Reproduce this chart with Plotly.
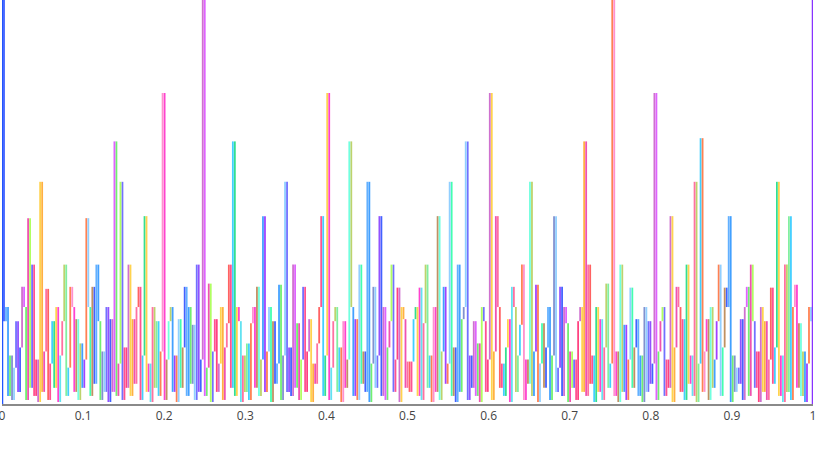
import numpy as np
import plotly.graph_objects as go

y_values = [
    110, 20.5, 24, 2, 12, 1, 9, 20.5, 3, 14,
    29, 24, 1, 46, 4, 34.5, 2, 11, 0.5, 55,
    3, 13, 28.5, 1, 10, 20.5, 4, 24, 0.5, 12,
    20.5, 34.5, 2, 9, 29, 24, 3, 21, 1, 15,
    4, 11, 46, 24, 2, 29, 5, 34.5, 20.5, 1,
    13, 3, 24, 0.5, 21, 3, 65, 2, 10, 55,
    1, 14, 4, 34.5, 2, 21, 5, 24, 29, 1,
    12, 46.5, 3, 10, 0.5, 24, 4, 20.5, 2, 13,
    77, 1, 11, 20.5, 24, 3, 12, 0.5, 21, 4,
    14, 29, 2, 24, 5, 19.6, 1, 34.5, 3, 11,
    110, 2, 9, 29.8, 0.5, 13, 21, 3, 10, 24,
    1, 14, 20, 34.5, 4, 65, 2, 24, 20.5, 0.5,
    12, 3, 15, 1, 20, 24, 4, 29, 2, 11,
    46.5, 3, 13, 24, 0.5, 20.5, 5, 10, 29.5, 1,
    12, 55, 3, 14, 2, 34.5, 4, 20, 1, 11,
    29, 3, 13, 21, 0.5, 10, 5, 15, 24, 46.5,
    2, 12, 77, 1, 9, 20.5, 24, 3, 14, 0.5,
    20.5, 4, 11, 65, 24, 2, 21, 1, 34.5, 5,
    13, 3, 55, 0.5, 10, 29, 4, 12, 46.5, 2,
    24, 1, 14, 20.5, 34.5, 3, 11, 28.8, 0.5, 24,
    21, 4, 10.5, 3, 10.5, 21, 24, 2, 28.8, 1,
    20, 34.5, 4, 12, 0.5, 24, 3, 46.5, 1, 13,
    29, 5, 10, 55, 2, 14, 0.5, 34.5, 3, 21,
    24, 65, 1, 12, 4, 20.5, 2, 15, 0.5, 24,
    20.5, 3, 11, 77, 1, 13, 46.5, 24, 4, 10,
    2, 14, 21, 0.5, 29, 24, 3, 12, 19.6, 34.5,
    1, 11, 5, 55, 2, 13, 29.5, 0.5, 10, 20,
    4, 14, 24, 1, 12, 46.5, 3, 9, 29, 2,
    24, 20, 0.5, 13, 4, 11, 1, 20.5, 24, 3,
    65, 2, 34.5, 5, 12, 0.5, 24, 3, 21, 1,
    14, 29.8, 4, 10, 110, 2, 13, 0.5, 34.5, 3,
    19.6, 1, 11, 28.8, 4, 14, 21, 2, 12, 0.5,
    24, 3, 20.5, 5, 10, 77, 1, 13, 20.5, 24,
    2, 11, 4, 46.5, 0.5, 14, 29, 24, 3, 21,
    1, 34.5, 5, 12, 2, 55, 0.5, 10, 65.8, 3,
    13, 21, 1, 24, 4, 11, 20.5, 34.5, 2, 14,
    28.8, 24, 46.5, 0.5, 12, 3, 9, 5, 21, 1,
    24, 29, 2, 34.5, 20.5, 4, 13, 0.5, 24, 3,
    20.5, 1, 11, 28.8, 5, 14, 55, 2, 12, 0.5,
    34.5, 3, 46.5, 1, 24, 29.5, 4, 20, 2, 13,
    0.5, 10, 24, 20.5, 110,
]
x_values = np.linspace(0.0, 1.0, len(y_values))

tick_values = [0, 0.1, 0.2, 0.3, 0.4, 0.5, 0.6, 0.7, 0.8, 0.9, 1]
tick_labels = ["0", "0.1", "0.2", "0.3", "0.4", "0.5", "0.6", "0.7", "0.8", "0.9", "1"]

# Segment colour cycle (style)
palette = [
    "#3355ff", "#ff3377", "#33ccff", "#9933ff", "#66ee66", "#ffaa33",
    "#ff33cc", "#33ffaa", "#6666ff", "#ff5555", "#b8d060", "#55aaff",
    "#cc66cc", "#22dd88", "#ff7744", "#7788cc", "#ee44aa", "#55e0f0",
    "#bb8855", "#8844ff", "#ff4488", "#77ee99", "#3399ff", "#dd55ff",
    "#ffd040", "#ff88cc", "#88ccff", "#aaff55", "#ff6699", "#66ffdd",
]

fig = go.Figure()
groups = {c: ([], []) for c in palette}

# each step of the sampled signal is drawn as a vertical stroke
for i in range(len(y_values) - 1):
    c = palette[(i * 11 + i // 3) % len(palette)]
    gx, gy = groups[c]
    xs = x_values[i + 1]
    gx.extend([xs, xs, None])
    gy.extend([y_values[i], y_values[i + 1], None])

for c, (gx, gy) in groups.items():
    fig.add_trace(go.Scatter(
        x=gx, y=gy, mode="lines",
        line=dict(color=c, width=1.8),
        opacity=0.92,
        hoverinfo="skip", showlegend=False,
    ))

# the endpoint spikes (x = 0 and x = 1) are drawn from the baseline, on top
for k, j in enumerate([0, len(y_values) - 1]):
    c = ["#2255ff", "#8833ff"][k]
    fig.add_trace(go.Scatter(
        x=[x_values[j], x_values[j]], y=[0, y_values[j]], mode="lines",
        line=dict(color=c, width=2.5), hoverinfo="skip", showlegend=False,
    ))

fig.update_layout(
    width=815, height=460,
    margin=dict(l=2, r=2, t=0, b=56, autoexpand=False),
    paper_bgcolor="white", plot_bgcolor="white",
    showlegend=False,
    xaxis=dict(
        range=[0, 1], tickvals=tick_values, ticktext=tick_labels,
        showgrid=False, zeroline=False, showline=True,
        linecolor="#8a8a8a", linewidth=2, ticks="",
        tickfont=dict(size=12, color="#444"),
        ticklabeloverflow="allow",
    ),
    yaxis=dict(
        range=[0, 100], showgrid=False, zeroline=False,
        showline=False, showticklabels=False, ticks="",
    ),
)

fig.write_html(
    "out.html",
    config={"displayModeBar": False},
    post_script="document.body.style.margin='0';document.body.style.padding='0';",
)
